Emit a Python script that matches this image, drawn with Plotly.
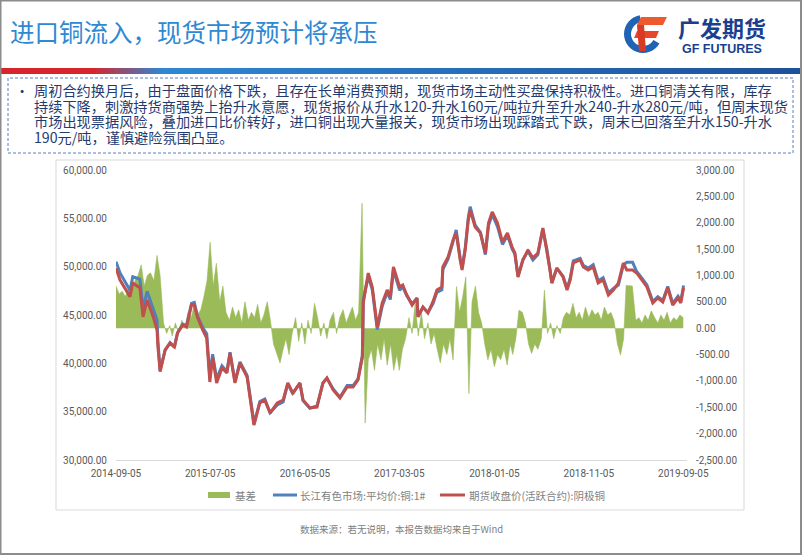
import math
import plotly.graph_objects as go

W, H = 802, 555

# ---------------- data ----------------
price_dates = [
    "2014-09-05", "2014-09-18", "2014-10-20", "2014-10-29", "2014-11-21", "2014-12-01", "2014-12-14",
    "2015-01-03", "2015-01-15", "2015-01-18", "2015-01-25", "2015-02-10", "2015-02-26", "2015-03-12",
    "2015-03-22", "2015-04-08", "2015-04-20", "2015-05-06", "2015-05-15", "2015-05-25", "2015-06-11",
    "2015-06-24", "2015-07-04", "2015-07-13", "2015-07-26", "2015-08-12", "2015-08-28", "2015-09-07",
    "2015-09-23", "2015-10-09", "2015-11-01", "2015-11-20", "2015-11-23", "2015-12-12", "2015-12-28",
    "2016-01-14", "2016-02-06", "2016-02-25", "2016-03-11", "2016-03-27", "2016-04-19", "2016-04-29",
    "2016-05-21", "2016-06-13", "2016-07-02", "2016-07-15", "2016-08-04", "2016-08-26", "2016-09-18",
    "2016-10-07", "2016-10-23", "2016-11-06", "2016-11-09", "2016-11-25", "2016-12-08", "2016-12-24",
    "2017-01-09", "2017-01-25", "2017-02-04", "2017-02-14", "2017-03-01", "2017-03-06", "2017-03-16",
    "2017-03-29", "2017-04-15", "2017-05-01", "2017-05-04", "2017-05-20", "2017-06-05", "2017-06-21",
    "2017-07-04", "2017-07-20", "2017-07-23", "2017-08-09", "2017-08-25", "2017-09-04", "2017-09-17",
    "2017-09-23", "2017-10-03", "2017-10-13", "2017-10-19", "2017-11-04", "2017-11-21", "2017-12-07",
    "2017-12-17", "2017-12-29", "2018-01-15", "2018-01-31", "2018-02-16", "2018-03-03", "2018-03-12",
    "2018-03-22", "2018-04-07", "2018-04-23", "2018-05-09", "2018-05-25", "2018-06-10", "2018-06-23",
    "2018-07-03", "2018-07-09", "2018-07-25", "2018-08-14", "2018-08-27", "2018-09-06", "2018-09-16",
    "2018-10-08", "2018-10-18", "2018-11-03", "2018-11-19", "2018-12-05", "2018-12-21", "2019-01-07",
    "2019-01-23", "2019-02-08", "2019-02-24", "2019-03-07", "2019-03-26", "2019-04-08", "2019-04-25",
    "2019-05-11", "2019-05-30", "2019-06-15", "2019-07-01", "2019-07-17", "2019-08-02", "2019-08-19",
    "2019-08-28", "2019-09-04", "2019-09-06",
]

futures_close = [
    49860, 48620, 46900, 48300, 47800, 44800, 46550,
    44800, 43450, 41700, 39130, 41380, 42100, 41700,
    43140, 43970, 43760, 46030, 46030, 44800, 43450,
    42620, 38070, 40650, 37970, 39520, 39000, 41070,
    37970, 40030, 38590, 34450, 33620, 35900, 36200,
    34860, 35900, 36200, 37970, 36930, 37970, 36200,
    35380, 35480, 37970, 38490, 37240, 36410, 37550,
    37550, 38280, 40650, 46240, 49340, 47900, 43760,
    46240, 47590, 46860, 49970, 48310, 47900, 48100,
    47070, 46030, 46760, 44800, 45830, 45210, 46350,
    47590, 47900, 49970, 51000, 52760, 53480, 50690,
    49660, 51720, 54830, 55860, 54100, 53480, 51410,
    54520, 55660, 54520, 52550, 53480, 52030, 51410,
    48930, 50690, 51720, 50900, 51410, 54000, 51720,
    49660, 48310, 49860, 48930, 47590, 48620, 50380,
    50690, 49970, 49660, 49970, 48310, 48620, 47070,
    47590, 48310, 50380, 49660, 49660, 49350, 48620,
    47900, 46240, 46760, 46350, 47800, 46030, 46760,
    46240, 47380, 47800,
]

spot_price = [
    50520, 49350, 47550, 48950, 48700, 45600, 47450,
    45650, 44500, 42300, 39250, 41330, 42130, 41680,
    43150, 44050, 43900, 46200, 46300, 44950, 43700,
    43050, 38650, 40950, 38400, 39750, 39150, 41150,
    38100, 40150, 38750, 34550, 33700, 36050, 36300,
    34900, 35700, 36000, 37900, 36850, 37950, 36150,
    35350, 35600, 37950, 38450, 37350, 36500, 37700,
    37700, 38400, 40800, 46600, 49000, 47600, 43500,
    45900, 47350, 46600, 49650, 48000, 47550, 47900,
    47000, 46150, 46750, 44850, 45800, 45250, 46150,
    47350, 47600, 49700, 50800, 52600, 53800, 50850,
    49850, 51900, 55100, 56200, 54300, 53550, 51250,
    54250, 55400, 54150, 52300, 53250, 51850, 51300,
    49000, 50750, 51600, 50700, 51250, 53900, 51800,
    49700, 48300, 49850, 49000, 47750, 48800, 50600,
    50850, 50150, 49850, 50200, 48550, 48850, 47300,
    47750, 48100, 50150, 50450, 50450, 49500, 48800,
    48100, 46400, 46900, 46500, 47950, 46200, 46950,
    46450, 47600, 48050,
]

basis_dates = [
    "2014-09-05", "2014-09-15", "2014-09-25", "2014-10-05", "2014-10-15", "2014-10-25",
    "2014-11-05", "2014-11-15", "2014-11-25", "2014-12-05", "2014-12-15", "2014-12-25",
    "2015-01-05", "2015-01-15", "2015-01-25", "2015-02-05", "2015-02-15", "2015-02-25",
    "2015-03-05", "2015-03-15", "2015-03-25", "2015-04-05", "2015-04-15", "2015-04-25",
    "2015-05-05", "2015-05-15", "2015-05-25", "2015-06-05", "2015-06-15", "2015-06-25",
    "2015-07-05", "2015-07-15", "2015-07-25", "2015-08-05", "2015-08-15", "2015-08-25",
    "2015-09-05", "2015-09-15", "2015-09-25", "2015-10-05", "2015-10-15", "2015-10-25",
    "2015-11-05", "2015-11-15", "2015-11-25", "2015-12-05", "2015-12-15", "2015-12-25",
    "2016-01-05", "2016-01-15", "2016-01-25", "2016-02-05", "2016-02-15", "2016-02-25",
    "2016-03-05", "2016-03-15", "2016-03-25", "2016-04-05", "2016-04-15", "2016-04-25",
    "2016-05-05", "2016-05-15", "2016-05-25", "2016-06-05", "2016-06-15", "2016-06-25",
    "2016-07-05", "2016-07-15", "2016-07-25", "2016-08-05", "2016-08-15", "2016-08-25",
    "2016-09-05", "2016-09-15", "2016-09-25", "2016-10-05", "2016-10-15", "2016-10-25",
    "2016-11-05", "2016-11-15", "2016-11-25", "2016-12-05", "2016-12-15", "2016-12-25",
    "2017-01-05", "2017-01-15", "2017-01-25", "2017-02-05", "2017-02-15", "2017-02-25",
    "2017-03-05", "2017-03-15", "2017-03-25", "2017-04-05", "2017-04-15", "2017-04-25",
    "2017-05-05", "2017-05-15", "2017-05-25", "2017-06-05", "2017-06-15", "2017-06-25",
    "2017-07-05", "2017-07-15", "2017-07-25", "2017-08-05", "2017-08-15", "2017-08-25",
    "2017-09-05", "2017-09-15", "2017-09-25", "2017-10-05", "2017-10-15", "2017-10-25",
    "2017-11-05", "2017-11-15", "2017-11-25", "2017-12-05", "2017-12-15", "2017-12-25",
    "2018-01-05", "2018-01-15", "2018-01-25", "2018-02-05", "2018-02-15", "2018-02-25",
    "2018-03-05", "2018-03-15", "2018-03-25", "2018-04-05", "2018-04-15", "2018-04-25",
    "2018-05-05", "2018-05-15", "2018-05-25", "2018-06-05", "2018-06-15", "2018-06-25",
    "2018-07-05", "2018-07-15", "2018-07-25", "2018-08-05", "2018-08-15", "2018-08-25",
    "2018-09-05", "2018-09-15", "2018-09-25", "2018-10-05", "2018-10-15", "2018-10-25",
    "2018-11-05", "2018-11-15", "2018-11-25", "2018-12-05", "2018-12-15", "2018-12-25",
    "2019-01-05", "2019-01-15", "2019-01-25", "2019-02-05", "2019-02-15", "2019-02-25",
    "2019-03-05", "2019-03-15", "2019-03-25", "2019-04-05", "2019-04-15", "2019-04-25",
    "2019-05-05", "2019-05-15", "2019-05-25", "2019-06-05", "2019-06-15", "2019-06-25",
    "2019-07-05", "2019-07-15", "2019-07-25", "2019-08-05", "2019-08-15", "2019-08-25",
    "2019-09-05",
]

basis_values = [
    800, 650, 700, 600, 750, 650,
    900, 1000, 1200, 800, 1000, 1050,
    900, 1380, 1000, 100, -100, 50,
    -150, 100, -80, 150, 0, 300,
    200, 450, 250, 350, 600, 900,
    1630, 800, 1230, 500, 800, 300,
    150, 400, 200, 350, 100, 500,
    150, 300, 200, 450, 100, 250,
    500, 150, -300, -500, -660, -400,
    -200, -500, -100, 200, -250, 100,
    -300, 150, -100, 470, 200, -150,
    100, -200, 150, 300, -100, 200,
    350, 100, 250, 400, 150, 300,
    2370, -1800, -600, -400, -800, -300,
    -600, -200, -700, -300, -800, -500,
    -800, -400, -200, 200, -100, 470,
    -150, 300, -200, 100, -300, -100,
    -400, -660, -300, -500, -200, -600,
    790, 300, 600, 970, -1240, 500,
    800, 300, 100, -300, -600, -400,
    -730, -500, -600, -400, -700, -300,
    -500, -200, 340, 300, 100, -300,
    -480, -300, -400, -200, 720, -100,
    100, -200, 50, -100, 200, 300,
    250, 470, 200, 300, 150, 400,
    200, 350, 250, 300, 150, 400,
    250, 300, 150, -300, -510, -200,
    810, 810, 800, 150, 200, 100,
    250, 150, 330, 200, 100, 250,
    150, 300, 100, 200, 150, 250,
    200,
]

x_tick_labels = ["2014-09-05", "2015-07-05", "2016-05-05", "2017-03-05",
                 "2018-01-05", "2018-11-05", "2019-09-05"]
left_ticks = [30000, 35000, 40000, 45000, 50000, 55000, 60000]
right_ticks = [-2500, -2000, -1500, -1000, -500, 0, 500, 1000, 1500, 2000, 2500, 3000]

series_names = ["基差", "长江有色市场:平均价:铜:1#", "期货收盘价(活跃合约):阴极铜"]
title_text = "进口铜流入，现货市场预计将承压"
body_lines = [
    "周初合约换月后，由于盘面价格下跌，且存在长单消费预期，现货市场主动性买盘保持积极性。进口铜清关有限，库存",
    "持续下降，刺激持货商强势上抬升水意愿，现货报价从升水120-升水160元/吨拉升至升水240-升水280元/吨，但周末现货",
    "市场出现票据风险，叠加进口比价转好，进口铜出现大量报关，现货市场出现踩踏式下跌，周末已回落至升水150-升水",
    "190元/吨，谨慎避险氛围凸显。",
]
source_text = "数据来源：若无说明，本报告数据均来自于Wind"

# ---------------- colours ----------------
GREEN = "#9bbb59"
BLUE = "#4f81bd"
RED = "#c0504d"
TICK_COL = "#595959"


def X(px):
    return px / W


def Y(py):
    return 1 - py / H


fig = go.Figure()

fig.add_trace(go.Scatter(
    x=basis_dates, y=basis_values, name=series_names[0], mode="lines",
    line=dict(color=GREEN, width=0.6), fill="tozeroy", fillcolor=GREEN,
    yaxis="y", xaxis="x",
))
fig.add_trace(go.Scatter(
    x=price_dates, y=spot_price, name=series_names[1], mode="lines",
    line=dict(color=BLUE, width=3), yaxis="y2", xaxis="x",
))
fig.add_trace(go.Scatter(
    x=price_dates, y=futures_close, name=series_names[2], mode="lines",
    line=dict(color=RED, width=3), yaxis="y2", xaxis="x",
))

tickfont = dict(family="Roboto, Open Sans, sans-serif", size=10, color=TICK_COL)
ydom = [Y(460), Y(170)]

fig.update_layout(
    width=W, height=H,
    autosize=False,
    margin=dict(l=0, r=0, t=0, b=0, pad=0, autoexpand=False),
    paper_bgcolor="white", plot_bgcolor="white",
    showlegend=False,
    xaxis=dict(
        type="date", domain=[X(116), X(687)],
        range=["2014-09-05", "2019-09-17"],
        tickvals=x_tick_labels, ticktext=x_tick_labels,
        showgrid=False, zeroline=False, showline=True,
        linecolor="#d9d9d9", linewidth=1, ticks="",
        tickfont=tickfont, anchor="y", ticklabelstandoff=4,
        automargin=False,
    ),
    yaxis=dict(
        domain=ydom, range=[-2500, 3000], side="right",
        tickvals=right_ticks, ticktext=[f"{v:,.2f}" for v in right_ticks],
        showgrid=False, zeroline=False, showline=False, ticks="",
        tickfont=tickfont, anchor="x", ticklabelstandoff=8,
        automargin=False,
    ),
    yaxis2=dict(
        domain=ydom, range=[30000, 60000], side="left", overlaying="y",
        tickvals=left_ticks, ticktext=[f"{v:,.2f}" for v in left_ticks],
        showgrid=False, zeroline=False, showline=False, ticks="",
        tickfont=tickfont, anchor="x", ticklabelstandoff=8,
        automargin=False,
    ),
)

shapes = []
annotations = []

# chart panel border
shapes.append(dict(type="rect", xref="paper", yref="paper",
                   x0=X(56), x1=X(744), y0=Y(510), y1=Y(160),
                   line=dict(color="#d9d9d9", width=1), layer="below"))

# header stripe (red -> blue gradient approximated by thin segments)
def lerp(c1, c2, t):
    return "#%02x%02x%02x" % tuple(int(round(a + (b - a) * t)) for a, b in zip(c1, c2))

red_c = (215, 38, 43)
mid_c = (46, 136, 210)
dark_c = (29, 80, 155)
step = 6
for sx in range(0, W, step):
    if sx < 90:
        col = lerp(red_c, red_c, 0)
    elif sx < 160:
        col = lerp(red_c, mid_c, (sx - 90) / 70)
    else:
        col = lerp(mid_c, dark_c, (sx - 160) / (W - 160))
    shapes.append(dict(type="rect", xref="paper", yref="paper",
                       x0=X(sx), x1=X(min(sx + step + 0.5, W)), y0=Y(74), y1=Y(68),
                       line=dict(width=0), fillcolor=col, layer="above"))

# text box (dashed)
shapes.append(dict(type="rect", xref="paper", yref="paper",
                   x0=X(8), x1=X(793), y0=Y(153), y1=Y(78),
                   line=dict(color="#5a7fbf", width=1, dash="3px,2px"),
                   fillcolor="white", layer="below"))

# page frame
shapes.append(dict(type="rect", xref="paper", yref="paper",
                   x0=X(0.5), x1=X(801), y0=Y(554), y1=Y(0.5),
                   line=dict(color="#8c8c8c", width=2), layer="above"))

# logo icon: blue ring arc + red "F"
def poly(points):
    return "M " + " L ".join(f"{X(px):.5f},{Y(py):.5f}" for px, py in points) + " Z"

cx, cy, ro, ri = 643, 34, 19, 12
outer = [(cx + ro * math.cos(math.radians(a)), cy + ro * math.sin(math.radians(a)))
         for a in range(30, 261, 10)]
inner = [(cx + ri * math.cos(math.radians(a)), cy + ri * math.sin(math.radians(a)))
         for a in range(260, 29, -10)]
shapes.append(dict(type="path", xref="paper", yref="paper", path=poly(outer + inner),
                   fillcolor="#1f63b5", line=dict(width=0), layer="above"))
shapes.append(dict(type="path", xref="paper", yref="paper",
                   path=poly([(641, 17), (667, 17), (663, 25), (637, 25)]),
                   fillcolor="#ee5a2e", line=dict(width=0), layer="above"))
shapes.append(dict(type="path", xref="paper", yref="paper",
                   path=poly([(637, 31), (659, 31), (656, 38), (634, 38)]),
                   fillcolor="#e8472c", line=dict(width=0), layer="above"))
shapes.append(dict(type="path", xref="paper", yref="paper",
                   path=poly([(637, 25), (644, 25), (646, 51), (639, 51)]),
                   fillcolor="#d93a25", line=dict(width=0), layer="above"))

# legend markers
shapes.append(dict(type="rect", xref="paper", yref="paper",
                   x0=X(208), x1=X(230), y0=Y(498), y1=Y(492),
                   line=dict(width=0), fillcolor=GREEN))
shapes.append(dict(type="line", xref="paper", yref="paper",
                   x0=X(273), x1=X(297), y0=Y(495), y1=Y(495),
                   line=dict(color=BLUE, width=3)))
shapes.append(dict(type="line", xref="paper", yref="paper",
                   x0=X(440), x1=X(465), y0=Y(495), y1=Y(495),
                   line=dict(color=RED, width=3)))

CJK = "Noto Sans CJK SC, sans-serif"
legend_font = dict(family=CJK, size=10.5, color="#7f7f7f")
for name, lx in zip(series_names, [233, 298, 467]):
    annotations.append(dict(xref="paper", yref="paper", x=X(lx), y=Y(495),
                            xanchor="left", yanchor="middle", text=name,
                            showarrow=False, font=legend_font))

# title
annotations.append(dict(xref="paper", yref="paper", x=X(8), y=Y(32),
                        xanchor="left", yanchor="middle", text=title_text,
                        showarrow=False,
                        font=dict(family=CJK, size=24.5, color="#2f88d2")))

# logo text
annotations.append(dict(xref="paper", yref="paper", x=X(722), y=Y(27),
                        xanchor="center", yanchor="middle", text="<b>广发期货</b>",
                        showarrow=False,
                        font=dict(family=CJK, size=22, color="#1b3f8f")))
annotations.append(dict(xref="paper", yref="paper", x=X(722), y=Y(49),
                        xanchor="center", yanchor="middle", text="<b>GF FUTURES</b>",
                        showarrow=False,
                        font=dict(family="Liberation Sans, Arial, sans-serif", size=12.5,
                                  color="#1b3f8f")))

# body text
body_font = dict(family=CJK, size=14.2, color="#1f3b70")
annotations.append(dict(xref="paper", yref="paper", x=X(13), y=Y(90),
                        xanchor="left", yanchor="middle", text="•",
                        showarrow=False, font=body_font))
for i, line in enumerate(body_lines):
    annotations.append(dict(xref="paper", yref="paper", x=X(32), y=Y(90 + 15.6 * i),
                            xanchor="left", yanchor="middle", text=line,
                            showarrow=False, font=body_font))

# source
annotations.append(dict(xref="paper", yref="paper", x=X(401), y=Y(529),
                        xanchor="center", yanchor="middle", text=source_text,
                        showarrow=False,
                        font=dict(family=CJK, size=9.5, color="#808080")))

fig.update_layout(shapes=shapes, annotations=annotations)

fig.write_html(
    "out.html",
    config={"displayModeBar": False},
    post_script="document.body.style.margin='0px';document.body.style.padding='0px';",
)
